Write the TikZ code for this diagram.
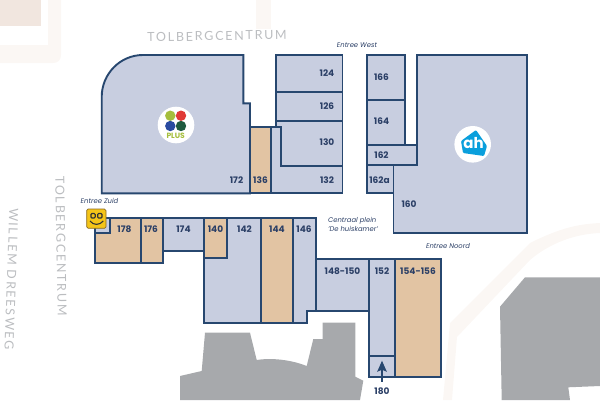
\documentclass[tikz,border=0pt]{standalone}
\usepackage{fontspec}
\setmainfont{Poppins}
\newfontfamily\streetfont[LetterSpace=14]{Lato}
\usepackage{xcolor}
\usetikzlibrary{arrows.meta}
\definecolor{unitline}{HTML}{27476F}
\definecolor{unitblue}{HTML}{C8CEE0}
\definecolor{unittan}{HTML}{E2C4A3}
\definecolor{unittext}{HTML}{2B3F66}
\definecolor{builtgrey}{HTML}{A7A9AC}
\definecolor{roadpale}{HTML}{FBF7F4}
\definecolor{roadblock}{HTML}{F1E6DF}
\definecolor{streetgrey}{HTML}{BBBDC0}
\definecolor{plusolive}{HTML}{A5BE3C}
\definecolor{plusred}{HTML}{E03A36}
\definecolor{plusblue}{HTML}{2A4BA0}
\definecolor{plusgreen}{HTML}{1F5A40}
\definecolor{ahblue}{HTML}{0A9FDC}
\definecolor{smileyellow}{HTML}{F5C518}
\definecolor{smileedge}{HTML}{8A6A20}
\tikzset{
    free/.style={draw=unitline,line width=1.9pt,fill=unitblue,line join=miter},
    taken/.style={draw=unitline,line width=1.9pt,fill=unittan,line join=miter},
    nr/.style={font=\fontsize{9}{9}\selectfont\bfseries,text=unittext,inner sep=0pt},
    door/.style={font=\fontsize{6.8}{8}\selectfont\itshape,text=unittext,inner sep=0pt,align=left},
    street/.style={font=\streetfont\fontsize{12.5}{13}\selectfont,text=streetgrey,inner sep=0pt},
    grey/.style={fill=builtgrey,draw=none},
    road/.style={fill=roadpale,draw=none}
}
\begin{document}
\begin{tikzpicture}[x=1pt,y=-1pt]
    \useasboundingbox (0,0) rectangle (600,400);

    % roads in the background
    \fill[road] (48,0) -- (61,0) -- (61,55) .. controls (61,60) and (58,63) .. (53,63) -- (0,63) -- (0,45) -- (48,45) -- cycle;
    \fill[roadblock] (0,0) rectangle (41,26);
    \fill[road] (256,0) rectangle (271,29);
    \fill[road] (600,223) .. controls (580,224) and (562,227) .. (530,243) -- (513,260) -- (450,323) -- (443,400) -- (452,400)
        -- (457,337) -- (530,260) .. controls (550,243) and (575,234) .. (600,233) -- cycle;

    % buildings around the centre
    \fill[grey] (205,332.7) -- (250,332.7) -- (256.7,360) .. controls (272,357.5) and (292,360) .. (306.7,366)
        -- (313.3,339) -- (322.7,339) -- (322.7,322.7) -- (355.3,322.7) -- (355.3,376.7) -- (363.3,380.7)
        -- (360,400) -- (180,400) -- (180,376) -- (201.7,371) -- cycle;
    \fill[grey] (525,277.3) -- (600,277.3) -- (600,386) -- (568.3,387.3) -- (570,400) -- (501.7,400) -- (500,306.7) -- cycle;

    % upper block
    \draw[free] (143,55) -- (243.3,55) -- (243.3,103.3) -- (250,103.3) -- (250,193.3) -- (101.7,193.3) -- (101.7,97)
        .. controls (101.7,74) and (120,55) .. (143,55) -- cycle;
    \draw[taken] (250,126.7) rectangle (270.7,193.3);
    \draw[free] (276,55) rectangle (342.5,91.7);
    \draw[free] (276,91.7) rectangle (342.5,121);
    \draw[free] (276,121) -- (342.5,121) -- (342.5,165.7) -- (281,165.7) -- (281,126.7) -- (276,126.7) -- cycle;
    \draw[free] (270.7,126.7) -- (281,126.7) -- (281,165.7) -- (342.5,165.7) -- (342.5,193.3) -- (270.7,193.3) -- cycle;
    \draw[free] (367,55) rectangle (404.7,100);
    \draw[free] (367,100) rectangle (404.7,145);
    \draw[free] (417,55) -- (527,55) -- (527,233) -- (393.5,233) -- (393.5,165.3) -- (417,165.3) -- cycle;
    \draw[free] (367,145) rectangle (417,165.3);
    \draw[free] (367,165.3) rectangle (393.5,193.3);

    % lower block
    \draw[taken] (95.3,218.3) rectangle (140.7,263.3);
    \draw[free] (95.3,218.3) rectangle (110,232.7);
    \draw[taken] (140.7,218.3) rectangle (162.7,263.3);
    \draw[free] (162.7,218.3) rectangle (204.3,251.3);
    \draw[free] (227.3,218.3) -- (261.3,218.3) -- (261.3,323.3) -- (204.3,323.3) -- (204.3,257.7) -- (227.3,257.7) -- cycle;
    \draw[taken] (204.3,218.3) rectangle (227.3,257.7);
    \draw[taken] (261.3,218.3) rectangle (292.7,323.3);
    \draw[free] (292.7,218.3) -- (316.3,218.3) -- (316.3,311.3) -- (307.3,311.3) -- (307.3,323.3) -- (292.7,323.3) -- cycle;
    \draw[free] (316.3,258.7) rectangle (369.3,311);
    \draw[free] (369.3,258.7) rectangle (395,356);
    \draw[free] (369.3,356) rectangle (395,376.7);
    \draw[taken] (395,258.7) rectangle (441.3,376.7);

    % unit numbers
    \node[nr] (n172) at (236.5,180) {172};
    \node[nr] (n136) at (260.5,180) {136};
    \node[nr] (n124) at (327,73) {124};
    \node[nr] (n126) at (327,106) {126};
    \node[nr] (n130) at (327,142) {130};
    \node[nr] (n132) at (327,180) {132};
    \node[nr] (n166) at (381.5,77) {166};
    \node[nr] (n164) at (381.5,121) {164};
    \node[nr] (n162) at (381.5,155) {162};
    \node[nr] (n162a) at (379.5,180) {162a};
    \node[nr] (n160) at (409,204.5) {160};
    \node[nr] (n178) at (124.5,229) {178};
    \node[nr] (n176) at (151,229) {176};
    \node[nr] (n174) at (183.5,229) {174};
    \node[nr] (n140) at (215.5,229) {140};
    \node[nr] (n142) at (244.5,229) {142};
    \node[nr] (n144) at (277,229) {144};
    \node[nr] (n146) at (304,229) {146};
    \node[nr] (n148) at (342.5,271.5) {148-150};
    \node[nr] (n152) at (382,271.5) {152};
    \node[nr] (n154) at (418,271.5) {154-156};
    \node[nr] (n180) at (382,391.5) {180};
    \coordinate (tail) at (382,381.7);
    \coordinate (tip) at (382,360.7);
    \draw[-{Stealth[length=11pt,width=9.5pt,inset=2pt]},draw=unitline,fill=unitline,line width=1.5pt] (tail) -- (tip);

    % entrances
    \node[door] (west) at (357,45) {Entree West};
    \node[door] (zuid) at (99.5,201) {Entree Zuid};
    \node[door] (noord) at (448,246) {Entree Noord};
    \node[door] (plein) at (353,224.5) {Centraal plein\\[1pt]'De huiskamer'};

    % streets
    \node[street,rotate=1] (st1) at (217,36) {TOLBERGCENTRUM};
    \node[street,rotate=-89] (st2) at (61,246) {TOLBERGCENTRUM};
    \node[street,rotate=-92] (st3) at (11.5,279) {WILLEM DREESWEG};

    % logos
    \fill[white] (176,125) circle (18.3);
    \fill[white] (472.7,144.3) circle (18.3);
    \fill[plusolive] (170.3,115.7) circle (5.2);
    \fill[plusred] (181,115.7) circle (5.2);
    \fill[plusblue] (170.3,126) circle (5.2);
    \fill[plusgreen] (181,126) circle (5.2);
    \node[inner sep=0pt,font=\fontsize{7.6}{8}\selectfont\bfseries,text=plusolive] (plus) at (175.7,135.7) {PLUS};
    \fill[ahblue,rounded corners=1pt] (461,141) -- (476,130) -- (487,146) -- (484,156) -- (463,153) -- cycle;
    \node[inner sep=0pt,font=\fontsize{15}{15}\selectfont\bfseries,text=white] (ah) at (473.5,143.5) {ah};

    % smiley at the south door
    \draw[draw=smileedge,fill=smileyellow,rounded corners=1.5pt,line width=.7pt] (86.7,209) rectangle (106,228.3);
    \draw[line width=1.1pt,draw=black!80,rounded corners=1pt] (91,213.5) rectangle (95.2,218) (97.7,213.5) rectangle (102,218);
    \draw[line width=1.1pt,draw=black!80] (90,221) .. controls (93.5,225.5) and (99.5,225.5) .. (103.3,221);
\end{tikzpicture}
\end{document}
